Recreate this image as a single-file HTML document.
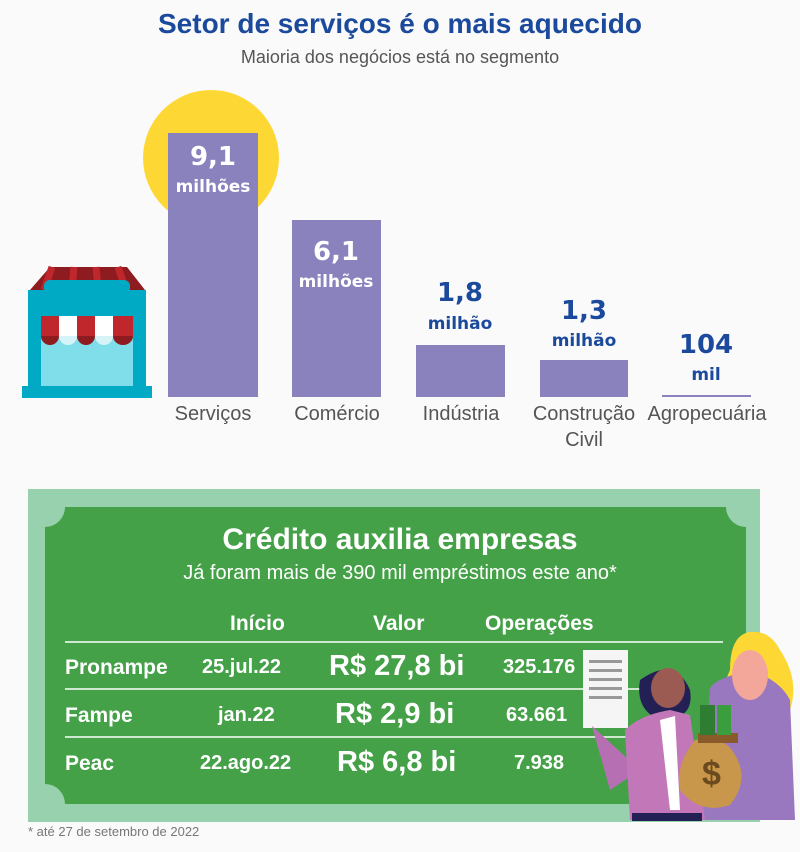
<!DOCTYPE html>
<html><head><meta charset="utf-8"><style>
body{margin:0;width:800px;height:852px;background:#fafafa;position:relative;overflow:hidden;font-family:"Liberation Sans Narrow","Liberation Sans",sans-serif}
.a{position:absolute}
.t{white-space:nowrap}
.bar{position:absolute;background:#8982bd}
.lab{position:absolute;color:#555;font-size:20px;text-align:center;width:140px;line-height:26px}
.val{position:absolute;text-align:center;font-weight:bold;width:120px;line-height:28px;font-family:'DejaVu Sans',sans-serif}
.w{color:#fff}.b{color:#1b4a9c}
.g{color:#fff;position:absolute;white-space:nowrap;font-weight:bold}
</style></head><body>
<div class="a t" style="left:0;width:800px;top:8px;text-align:center;font-size:28px;font-weight:bold;color:#1b4a9c">Setor de serviços é o mais aquecido</div>
<div class="a t" style="left:0;width:800px;top:47px;text-align:center;font-size:18px;color:#555">Maioria dos negócios está no segmento</div>

<div class="a" style="left:143px;top:90px;width:136px;height:136px;border-radius:50%;background:#fdd835"></div>
<svg class="a" style="left:22px;top:266px" width="130" height="134" viewBox="0 0 130 134">
<polygon points="8,24 28,1 105,1 123,24" fill="#8e1b20"/>
<g stroke="#c0272d" stroke-width="7"><line x1="30" y1="1" x2="22" y2="24"/><line x1="52" y1="1" x2="50" y2="24"/><line x1="74" y1="1" x2="76" y2="24"/><line x1="96" y1="1" x2="104" y2="24"/></g>
<rect x="6" y="24" width="118" height="103" fill="#00aac4"/>
<rect x="22" y="14" width="86" height="14" rx="6" fill="#00aac4"/>
<rect x="19" y="50" width="92" height="70" fill="#7fdeea"/>
<g><rect x="19" y="50" width="18" height="20" fill="#c0272d"/><rect x="37" y="50" width="18" height="20" fill="#fff"/><rect x="55" y="50" width="18" height="20" fill="#c0272d"/><rect x="73" y="50" width="18" height="20" fill="#fff"/><rect x="91" y="50" width="20" height="20" fill="#c0272d"/>
<path d="M19 70a9 9 0 0 0 18 0z" fill="#8e1b20"/><path d="M37 70a9 9 0 0 0 18 0z" fill="#d6f4f8"/><path d="M55 70a9 9 0 0 0 18 0z" fill="#8e1b20"/><path d="M73 70a9 9 0 0 0 18 0z" fill="#d6f4f8"/><path d="M91 70a10 9 0 0 0 20 0z" fill="#8e1b20"/></g>
<rect x="0" y="120" width="130" height="12" fill="#00aac4"/>
</svg>

<div class="bar" style="left:168px;top:133px;width:90px;height:264px"></div>
<div class="bar" style="left:292px;top:220px;width:89px;height:177px"></div>
<div class="bar" style="left:416px;top:345px;width:89px;height:52px"></div>
<div class="bar" style="left:540px;top:360px;width:88px;height:37px"></div>
<div class="bar" style="left:662px;top:395px;width:89px;height:2px"></div>

<div class="val w" style="left:153px;top:143px;font-size:26px">9,1</div>
<div class="val w" style="left:153px;top:173px;font-size:17px">milhões</div>
<div class="val w" style="left:276px;top:238px;font-size:26px">6,1</div>
<div class="val w" style="left:276px;top:268px;font-size:17px">milhões</div>
<div class="val b" style="left:400px;top:279px;font-size:26px">1,8</div>
<div class="val b" style="left:400px;top:310px;font-size:17px">milhão</div>
<div class="val b" style="left:524px;top:297px;font-size:26px">1,3</div>
<div class="val b" style="left:524px;top:327px;font-size:17px">milhão</div>
<div class="val b" style="left:646px;top:331px;font-size:26px">104</div>
<div class="val b" style="left:646px;top:361px;font-size:17px">mil</div>

<div class="lab" style="left:143px;top:401px">Serviços</div>
<div class="lab" style="left:267px;top:401px">Comércio</div>
<div class="lab" style="left:391px;top:401px">Indústria</div>
<div class="lab" style="left:514px;top:401px">Construção<br>Civil</div>
<div class="lab" style="left:637px;top:401px">Agropecuária</div>

<div class="a" style="left:28px;top:489px;width:732px;height:333px;background:#98d1ad"></div>
<svg class="a" style="left:45px;top:507px" width="701" height="297">
<path d="M20 0H681A20 20 0 0 0 701 20V277A20 20 0 0 0 681 297H20A20 20 0 0 0 0 277V20A20 20 0 0 0 20 0Z" fill="#45a148"/>
</svg>
<div class="g" style="left:0;width:800px;text-align:center;top:523px;font-size:30px">Crédito auxilia empresas</div>
<div class="g" style="left:0;width:800px;text-align:center;top:562px;font-size:20px;font-weight:normal">Já foram mais de 390 mil empréstimos este ano*</div>
<div class="g" style="left:230px;top:612px;font-size:21px">Início</div>
<div class="g" style="left:373px;top:612px;font-size:21px">Valor</div>
<div class="g" style="left:485px;top:612px;font-size:21px">Operações</div>
<div class="a" style="left:65px;top:641px;width:658px;height:2px;background:#cfe8cf"></div>
<div class="a" style="left:65px;top:688px;width:610px;height:2px;background:#cfe8cf"></div>
<div class="a" style="left:65px;top:736px;width:610px;height:2px;background:#cfe8cf"></div>
<div class="g" style="left:65px;top:656px;font-size:21px">Pronampe</div>
<div class="g" style="left:202px;top:656px;font-size:20px">25.jul.22</div>
<div class="g" style="left:329px;top:650px;font-size:29px">R$ 27,8 bi</div>
<div class="g" style="left:503px;top:656px;font-size:20px">325.176</div>
<div class="g" style="left:65px;top:704px;font-size:21px">Fampe</div>
<div class="g" style="left:218px;top:704px;font-size:20px">jan.22</div>
<div class="g" style="left:335px;top:698px;font-size:29px">R$ 2,9 bi</div>
<div class="g" style="left:506px;top:704px;font-size:20px">63.661</div>
<div class="g" style="left:65px;top:752px;font-size:21px">Peac</div>
<div class="g" style="left:200px;top:752px;font-size:20px">22.ago.22</div>
<div class="g" style="left:337px;top:746px;font-size:29px">R$ 6,8 bi</div>
<div class="g" style="left:514px;top:752px;font-size:20px">7.938</div>

<svg class="a" style="left:580px;top:630px" width="220" height="195">
<rect x="3" y="20" width="45" height="78" fill="#f5f5f5"/>
<g fill="#999"><rect x="9" y="30" width="33" height="3"/><rect x="9" y="39" width="33" height="3"/><rect x="9" y="48" width="33" height="3"/><rect x="9" y="57" width="33" height="3"/><rect x="9" y="66" width="33" height="3"/></g>
<path d="M12 96 L30 160 L60 140 Z" fill="#b76fb3"/>
<path d="M200 20 Q190 0 170 2 Q150 5 150 40 Q140 60 150 80 L210 80 Q220 50 200 20Z" fill="#fdd835"/>
<path d="M130 60 Q130 50 170 40 Q200 50 210 70 L215 190 L120 190 Z" fill="#9a78c0"/>
<ellipse cx="170" cy="45" rx="18" ry="25" fill="#f2a79a"/>
<path d="M60 50 Q95 25 110 60 Q115 90 80 90 Q55 80 60 50Z" fill="#232055"/>
<ellipse cx="88" cy="58" rx="17" ry="20" fill="#9b5a52"/>
<path d="M45 100 Q60 85 90 80 L110 85 L125 190 L50 190 Z" fill="#c278b8"/>
<path d="M80 90 L95 86 L100 180 L90 180 Z" fill="#fff"/>
<path d="M115 110 Q95 135 100 160 Q120 185 150 175 Q170 150 155 125 Q145 105 115 110Z" fill="#c9974b"/>
<rect x="118" y="103" width="40" height="10" fill="#8a5b2a"/>
<rect x="120" y="75" width="15" height="30" fill="#2e7d32"/><rect x="137" y="75" width="14" height="30" fill="#3a9d3e"/>
<text x="122" y="155" font-size="34" font-weight="bold" fill="#6b4a1f" font-family="Liberation Sans">$</text>
<rect x="52" y="183" width="70" height="8" fill="#232055"/>
</svg>
<div class="a t" style="left:28px;top:824px;font-size:13px;color:#777">* até 27 de setembro de 2022</div>
</body></html>
